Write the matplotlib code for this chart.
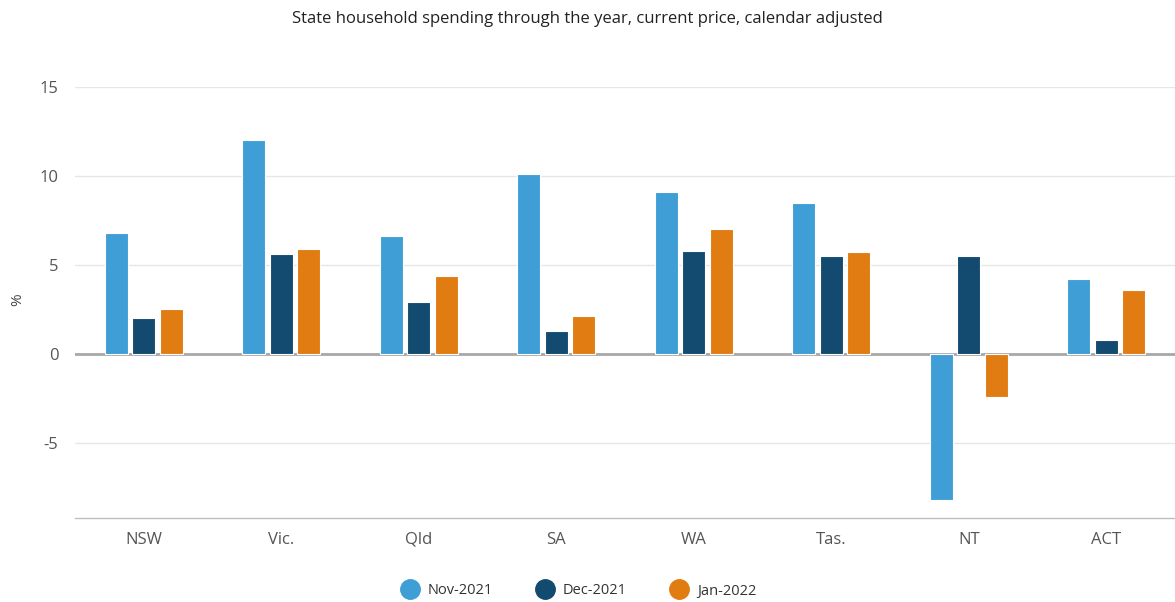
import matplotlib
matplotlib.use("Agg")
import matplotlib.pyplot as plt
import numpy as np
from matplotlib.lines import Line2D

plt.rcParams['font.family'] = ['Open Sans', 'DejaVu Sans']

states = ["NSW", "Vic.", "Qld", "SA", "WA", "Tas.", "NT", "ACT"]
series_names = ["Nov-2021", "Dec-2021", "Jan-2022"]
nov_2021 = [6.8, 12.0, 6.6, 10.1, 9.1, 8.5, -8.2, 4.2]
dec_2021 = [2.0, 5.6, 2.9, 1.3, 5.8, 5.5, 5.5, 0.8]
jan_2022 = [2.5, 5.9, 4.4, 2.1, 7.0, 5.7, -2.4, 3.6]
colors = ["#3e9ed5", "#134a70", "#e07c12"]
yticks = [-5, 0, 5, 10, 15]

fig = plt.figure(figsize=(11.75, 6.02), dpi=100)
ax = fig.add_axes([75/1175, (602-518)/602, 1100/1175, (518-87)/602])

x = np.arange(len(states))
bw = 0.165
step = 0.2
for i, (vals, c) in enumerate(zip([nov_2021, dec_2021, jan_2022], colors)):
    ax.bar(x + (i-1)*step, vals, width=bw, color=c, edgecolor="white", linewidth=0.8, zorder=3)

ax.set_xlim(-0.5, len(states)-0.5)
ax.set_ylim(-9.23, 15)
ax.set_yticks(yticks)
ax.set_yticklabels([str(t) for t in yticks])
ax.set_xticks(x)
ax.set_xticklabels(states)
ax.grid(axis='y', color="#e6e6e6", linewidth=1, zorder=0)
ax.axhline(0, color="#a8a8a8", linewidth=2, zorder=2)
for s in ["top", "right", "left"]:
    ax.spines[s].set_visible(False)
ax.spines["bottom"].set_color("#bfbfbf")
ax.spines["bottom"].set_linewidth(1)
ax.tick_params(axis='both', length=0, labelsize=12, colors="#555555")
ax.tick_params(axis='y', pad=12)
ax.tick_params(axis='x', pad=10)

fig.text(18/1175, 1 - 300/602, "%", rotation=90, fontsize=11, color="#444444",
         ha='center', va='center')

fig.text(0.5, 1 - 19/602,
         "State household spending through the year, current price, calendar adjusted",
         ha='center', va='center', fontsize=12, color="#222222")

handles = [Line2D([0], [0], marker='o', linestyle='none', markersize=14,
                  markerfacecolor=c, markeredgecolor=c) for c in colors]
fig.legend(handles, series_names, loc='center', bbox_to_anchor=(0.49, 1 - 591/602),
           ncol=3, frameon=False, fontsize=10.5, handletextpad=0.2, columnspacing=2.6,
           labelcolor="#333333")

fig.savefig("out.png", dpi=100)
